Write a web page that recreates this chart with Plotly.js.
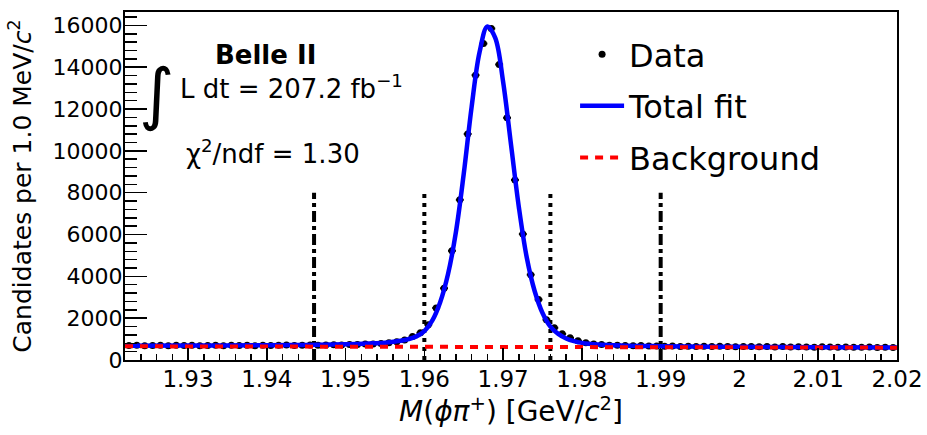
<!DOCTYPE html>
<html>
<head>
<meta charset="utf-8">
<script src="https://cdn.plot.ly/plotly-3.0.1.min.js"></script>
<style>html,body{margin:0;padding:0;background:#fff;}#chart{width:927px;height:435px;}</style>
</head>
<body>
<div id="chart"></div>
<script>
// Bin centres of M(phi pi+) [GeV/c^2], 1 MeV bins
const binCenters = [
  1.9225,1.9235,1.9245,1.9255,1.9265,1.9275,1.9285,1.9295,1.9305,1.9315,
  1.9325,1.9335,1.9345,1.9355,1.9365,1.9375,1.9385,1.9395,1.9405,1.9415,
  1.9425,1.9435,1.9445,1.9455,1.9465,1.9475,1.9485,1.9495,1.9505,1.9515,
  1.9525,1.9535,1.9545,1.9555,1.9565,1.9575,1.9585,1.9595,1.9605,1.9615,
  1.9625,1.9635,1.9645,1.9655,1.9665,1.9675,1.9685,1.9695,1.9705,1.9715,
  1.9725,1.9735,1.9745,1.9755,1.9765,1.9775,1.9785,1.9795,1.9805,1.9815,
  1.9825,1.9835,1.9845,1.9855,1.9865,1.9875,1.9885,1.9895,1.9905,1.9915,
  1.9925,1.9935,1.9945,1.9955,1.9965,1.9975,1.9985,1.9995,2.0005,2.0015,
  2.0025,2.0035,2.0045,2.0055,2.0065,2.0075,2.0085,2.0095,2.0105,2.0115,
  2.0125,2.0135,2.0145,2.0155,2.0165,2.0175,2.0185,2.0195
];
// Candidates per bin
const dataCounts = [
  690,700,685,695,705,680,700,690,710,685,
  695,700,680,705,690,700,685,710,695,700,
  715,690,705,720,700,715,730,720,745,740,
  760,770,790,830,870,960,1120,1300,1690,2490,
  3430,5220,7660,10810,13620,15130,15850,14130,11580,8610,
  6020,4080,2890,1930,1540,1250,1060,920,830,770,
  740,710,700,690,680,690,670,665,660,670,
  650,660,645,655,640,660,645,635,650,640,
  630,645,625,640,620,635,625,615,630,620,
  610,625,615,605,620,600,610,600
];
const binHalfWidth = 0.0005;

// Total fit curve
const fitX = [1.922,1.930,1.940,1.945,1.950,1.953,1.955,1.957,1.958,1.959,
  1.960,1.961,1.962,1.963,1.964,1.965,1.966,1.967,1.968,1.969,
  1.970,1.971,1.972,1.973,1.974,1.975,1.976,1.977,1.978,1.979,
  1.980,1.982,1.985,1.990,2.000,2.010,2.020];
const fitY = [680,690,705,720,750,790,830,920,1000,1130,
  1380,1880,2750,4100,6100,8900,12100,14700,15950,15400,
  13300,10300,7300,4900,3300,2250,1600,1250,1030,900,
  820,740,690,660,630,610,595];

// Background component
const bkgX = [1.922, 2.020];
const bkgY = [655, 590];

// Signal / sideband region boundaries
const dottedEdges = [1.960, 1.976];
const dashDotEdges = [1.946, 1.990];
const edgeTop = 8000;

const traces = [];
function vline(xv, dash) {
  traces.push({x:[xv,xv], y:[0,edgeTop], mode:'lines', type:'scatter',
    line:{color:'#000', width:4, dash:dash}, showlegend:false, hoverinfo:'skip'});
}
dottedEdges.forEach(v => vline(v, '4px,5px'));
dashDotEdges.forEach(v => vline(v, '11px,4px,4px,4px'));

traces.push({
  x: binCenters, y: dataCounts, type:'scatter', mode:'markers', name:'Data',
  legendgroup:'a',
  marker:{color:'#000', size:7},
  error_y:{type:'data', array: dataCounts.map(Math.sqrt), color:'#000', thickness:2, width:0},
  error_x:{type:'constant', value: binHalfWidth, color:'#000', thickness:2, width:0}
});
traces.push({
  x: fitX, y: fitY, type:'scatter', mode:'lines', name:'Total fit', legendgroup:'b',
  line:{color:'#0000ff', width:4.5, shape:'spline', smoothing:1}
});
traces.push({
  x: bkgX, y: bkgY, type:'scatter', mode:'lines', name:'Background', legendgroup:'c',
  line:{color:'#ff0000', width:4, dash:'8px,7px'}
});

const F = 'DejaVu Sans, Liberation Sans, Arial, sans-serif';
const layout = {
  width:927, height:435,
  margin:{l:125, r:30, t:12, b:75},
  paper_bgcolor:'#fff', plot_bgcolor:'#fff',
  font:{family:F, color:'#000', size:23},
  showlegend:true,
  legend:{x:0.583, y:0.957, xanchor:'left', yanchor:'top', bgcolor:'rgba(0,0,0,0)',
    font:{family:F, size:32, color:'#000'}, traceorder:'grouped', tracegroupgap:7, itemwidth:44},
  xaxis:{
    range:[1.922, 2.02], dtick:0.01, tick0:1.93, ticks:'inside', ticklen:12, tickwidth:1.5, tickcolor:'#000',
    minor:{dtick:0.002, ticks:'inside', ticklen:6, tickwidth:1.5, tickcolor:'#000', showgrid:false},
    showline:true, linewidth:2, linecolor:'#000', mirror:true, showgrid:false, zeroline:false,
    ticklabelstandoff:-3,
    tickfont:{family:F, size:23, color:'#000'},
    title:{text:'<i>M</i>(<i>ϕπ</i><sup>+</sup>) [GeV/<i>c</i><sup>2</sup>]', font:{family:F, size:28, color:'#000'}, standoff:4}
  },
  yaxis:{
    range:[0, 16640], dtick:2000, tick0:0, ticks:'inside', ticklen:22, tickwidth:1.5, tickcolor:'#000',
    minor:{dtick:400, ticks:'inside', ticklen:12, tickwidth:1.5, tickcolor:'#000', showgrid:false},
    showline:true, linewidth:2, linecolor:'#000', mirror:true, showgrid:false, zeroline:false,
    tickformat:'d', ticklabelstandoff:-4,
    tickfont:{family:F, size:22, color:'#000'},
    title:{text:'Candidates per 1.0 MeV/<i>c</i><sup>2</sup>', font:{family:F, size:25, color:'#000'}, standoff:14}
  },
  annotations:[
    {xref:'paper', yref:'paper', x:0.1826, y:0.877, xanchor:'center', yanchor:'middle', showarrow:false,
     text:'<b>Belle II</b>', font:{family:F, size:26, color:'#000'}},
    {xref:'paper', yref:'paper', x:0.041, y:0.765, xanchor:'center', yanchor:'middle', showarrow:false,
     text:'∫', font:{family:'DejaVu Sans, sans-serif', size:68, color:'#000'}},
    {xref:'paper', yref:'paper', x:0.0687, y:0.785, xanchor:'left', yanchor:'middle', showarrow:false,
     text:'L dt = 207.2 fb<sup>−1</sup>', font:{family:F, size:26, color:'#000'}},
    {xref:'paper', yref:'paper', x:0.0764, y:0.597, xanchor:'left', yanchor:'middle', showarrow:false,
     text:'χ<sup>2</sup>/ndf = 1.30', font:{family:F, size:26, color:'#000'}}
  ]
};
Plotly.newPlot('chart', traces, layout, {staticPlot:true, displayModeBar:false});
</script>
</body>
</html>
